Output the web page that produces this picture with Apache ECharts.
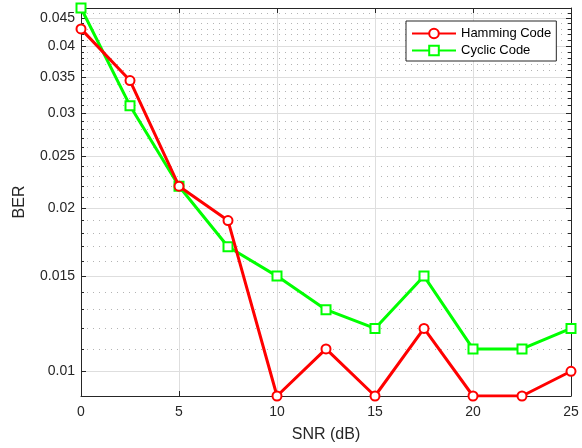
<!DOCTYPE html>
<html><head><meta charset="utf-8">
<script src="https://cdn.jsdelivr.net/npm/echarts@6/dist/echarts.min.js"></script>
<style>html,body{margin:0;padding:0;background:#fff}#c{width:582px;height:448px}</style>
</head><body><div id="c"></div>
<script>
// ---- data ----
const snr = [0, 2.5, 5, 7.5, 10, 12.5, 15, 17.5, 20, 22.5, 25];
const hamming = [0.043, 0.0345, 0.022, 0.019, 0.009, 0.011, 0.009, 0.012, 0.009, 0.009, 0.010];
const cyclic = [0.047, 0.031, 0.022, 0.017, 0.015, 0.013, 0.012, 0.015, 0.011, 0.011, 0.012];
const yTickValues = [0.01, 0.015, 0.02, 0.025, 0.03, 0.035, 0.04, 0.045];
const yTickLabels = ['0.01', '0.015', '0.02', '0.025', '0.03', '0.035', '0.04', '0.045'];
const yMinorValues = [0.011, 0.012, 0.013, 0.014, 0.016, 0.017, 0.018, 0.019,
  0.021, 0.022, 0.023, 0.024, 0.026, 0.027, 0.028, 0.029, 0.031, 0.032, 0.033, 0.034,
  0.036, 0.037, 0.038, 0.039, 0.041, 0.042, 0.043, 0.044, 0.046];
const yMin = 0.009, yMax = 0.047;
const xMin = 0, xMax = 25, xInterval = 5;

// ---- chart ----
const L = Math.log10;
const FONT = "'Liberation Sans', Arial, sans-serif";
const AX = '#262626';
const majorY = yTickValues.map(L);
const minorY = yMinorValues.map(L);
function yLabel(v) {
  for (let i = 0; i < majorY.length; i++) if (Math.abs(majorY[i] - v) < 1e-6) return yTickLabels[i];
  return '';
}
function yAxisDef(opts) {
  return Object.assign({
    type: 'value', min: L(yMin), max: L(yMax), position: 'left',
    axisLine: { show: false },
    axisTick: { show: true, inside: true, length: 5, lineStyle: { color: AX, width: 1 } },
    axisLabel: { show: false },
    splitLine: { show: false }
  }, opts);
}
const chart = echarts.init(document.getElementById('c'), null, { renderer: 'canvas' });
chart.setOption({
  animation: false,
  backgroundColor: '#fff',
  textStyle: { fontFamily: FONT },
  grid: { left: 81, right: 11, top: 8, bottom: 52, containLabel: false },
  legend: {
    orient: 'vertical', left: 406, top: 21,
    backgroundColor: '#fff', borderColor: AX, borderWidth: 1, borderRadius: 0,
    padding: [6, 5, 4, 5], itemGap: 4, itemWidth: 44, itemHeight: 12,
    textStyle: { fontSize: 13, color: '#000', fontFamily: FONT },
    data: ['Hamming Code', 'Cyclic Code']
  },
  xAxis: [{
    type: 'value', min: xMin, max: xMax, interval: xInterval, position: 'bottom',
    name: 'SNR (dB)', nameLocation: 'middle', nameGap: 31,
    nameTextStyle: { fontSize: 16, color: AX, fontFamily: FONT },
    axisLine: { show: true, lineStyle: { color: AX, width: 1 } },
    axisTick: { show: true, inside: true, length: 5, lineStyle: { color: AX } },
    axisLabel: { fontSize: 14, color: AX, margin: 9, fontFamily: FONT },
    splitLine: { show: true, lineStyle: { color: '#dedede', width: 1 } }
  }, {
    type: 'value', min: xMin, max: xMax, interval: xInterval, position: 'top',
    axisLine: { show: true, lineStyle: { color: AX, width: 1 } },
    axisTick: { show: true, inside: true, length: 5, lineStyle: { color: AX } },
    axisLabel: { show: false }, splitLine: { show: false }
  }],
  yAxis: [
    yAxisDef({
      name: 'BER', nameLocation: 'middle', nameGap: 53,
      nameTextStyle: { fontSize: 16, color: AX, fontFamily: FONT },
      axisLine: { show: true, lineStyle: { color: AX, width: 1 } },
      axisTick: { show: true, inside: true, length: 5, customValues: majorY, lineStyle: { color: AX } },
      axisLabel: { show: true, customValues: majorY, formatter: yLabel, fontSize: 14, color: AX, margin: 6, fontFamily: FONT },
      splitLine: { show: true, lineStyle: { color: '#dedede', width: 1 } }
    }),
    yAxisDef({
      axisTick: { show: true, inside: true, length: 3, customValues: minorY, lineStyle: { color: AX } },
      splitLine: { show: true, lineStyle: { color: '#b4b4b4', width: 1, type: [1, 5] } }
    }),
    yAxisDef({
      position: 'right',
      axisLine: { show: true, lineStyle: { color: AX, width: 1 } },
      axisTick: { show: true, inside: true, length: 5, customValues: majorY, lineStyle: { color: AX } }
    }),
    yAxisDef({
      position: 'right',
      axisTick: { show: true, inside: true, length: 3, customValues: minorY, lineStyle: { color: AX } }
    })
  ],
  series: [{
    name: 'Hamming Code', type: 'line', xAxisIndex: 0, yAxisIndex: 0,
    data: snr.map((x, i) => [x, L(hamming[i])]),
    symbol: 'emptyCircle', symbolSize: 9,
    lineStyle: { color: '#ff0000', width: 3 },
    itemStyle: { color: '#ff0000', borderColor: '#ff0000', borderWidth: 2 },
    z: 3
  }, {
    name: 'Cyclic Code', type: 'line', xAxisIndex: 0, yAxisIndex: 0,
    data: snr.map((x, i) => [x, L(cyclic[i])]),
    symbol: 'emptyRect', symbolSize: 9,
    lineStyle: { color: '#00ff00', width: 3 },
    itemStyle: { color: '#00ff00', borderColor: '#00ff00', borderWidth: 2 },
    z: 2
  }]
});
</script></body></html>
